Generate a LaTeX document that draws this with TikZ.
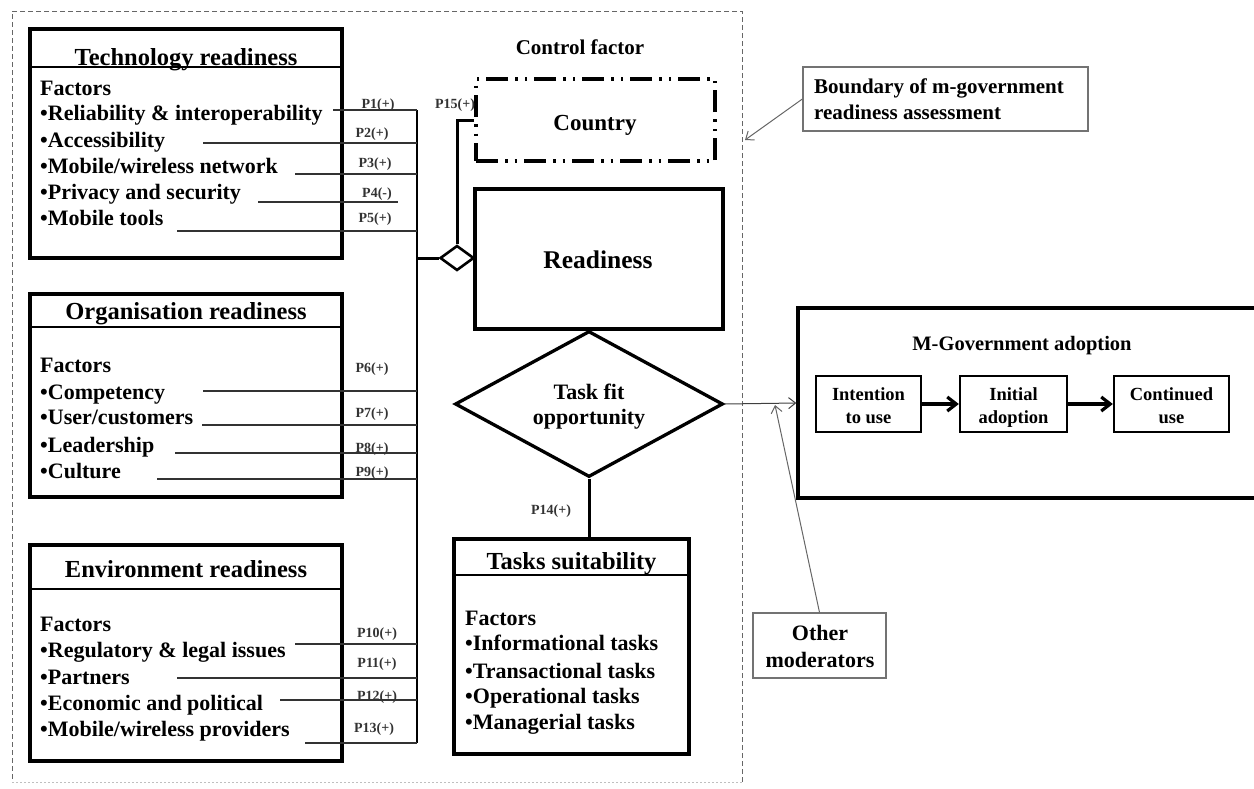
\documentclass[tikz,border=0pt]{standalone}
\usepackage{fontspec}
\setmainfont{Liberation Serif}
\usetikzlibrary{arrows.meta,shapes.geometric}

\begin{document}
\begin{tikzpicture}[x=1pt,y=-1pt,
  frame/.style={draw, rectangle, line width=3.3pt, inner sep=0pt},
  sepline/.style={line width=2.2pt},
  item/.style={font=\fontsize{22}{26}\selectfont\bfseries, anchor=base west, inner sep=0pt},
  ttl/.style={font=\fontsize{24.5}{28}\selectfont\bfseries, anchor=base, inner sep=0pt},
  plab/.style={font=\fontsize{14}{16}\selectfont\bfseries, anchor=base, inner sep=0pt, text=black!80},
  pline/.style={line width=1.2pt, black!80},
  bus/.style={line width=2.4pt},
  link/.style={line width=3pt},
  note/.style={draw=black!55, rectangle, line width=1.3pt, inner sep=0pt},
  garrow/.style={line width=1pt, black!60, -{Straight Barb[length=7pt,width=11pt]}},
  flow/.style={line width=3.2pt, -{Straight Barb[length=9pt,width=14pt]}},
  stage/.style={draw, rectangle, line width=2.3pt, inner sep=0pt, minimum height=56pt},
  stagetxt/.style={font=\fontsize{18.5}{22}\selectfont\bfseries, anchor=base, inner sep=0pt}
]
\useasboundingbox (0,0) rectangle (1254,788);

% assessment boundary
\draw[black!60, line width=0.8pt, dash pattern=on 5pt off 3pt]
  (742,782) -- (742,11) -- (12,11) -- (12,782);
\draw[black!25, line width=0.8pt, dash pattern=on 2pt off 2pt] (12,782) -- (742,782);

% ---------------- Technology readiness
\node[frame, minimum width=312pt, minimum height=229pt] (tech) at (186,143.5) {};
\draw[sepline] ([yshift=-40pt]tech.north west) -- ([yshift=-40pt]tech.north east);
\node[ttl] (techttl) at (186,65) {Technology readiness};
\node[item] (tech0) at (40,95) {Factors};
\node[item] (tech1) at (40,120) {•Reliability \& interoperability};
\node[item] (tech2) at (40,147) {•Accessibility};
\node[item] (tech3) at (40,173) {•Mobile/wireless network};
\node[item] (tech4) at (40,199) {•Privacy and security};
\node[item] (tech5) at (40,225) {•Mobile tools};

% ---------------- Organisation readiness
\node[frame, minimum width=312pt, minimum height=203pt] (org) at (186,395.5) {};
\draw[sepline] ([yshift=-35pt]org.north west) -- ([yshift=-35pt]org.north east);
\node[ttl] (orgttl) at (186,319) {Organisation readiness};
\node[item] (org0) at (40,372) {Factors};
\node[item] (org1) at (40,399) {•Competency};
\node[item] (org2) at (40,424) {•User/customers};
\node[item] (org3) at (40,452) {•Leadership};
\node[item] (org4) at (40,478) {•Culture};

% ---------------- Environment readiness
\node[frame, minimum width=312pt, minimum height=216pt] (env) at (186,653) {};
\draw[sepline] ([yshift=-46pt]env.north west) -- ([yshift=-46pt]env.north east);
\node[ttl] (envttl) at (186,577) {Environment readiness};
\node[item] (env0) at (40,631) {Factors};
\node[item] (env1) at (40,657) {•Regulatory \& legal issues};
\node[item] (env2) at (40,684) {•Partners};
\node[item] (env3) at (40,710) {•Economic and political};
\node[item] (env4) at (40,736) {•Mobile/wireless providers};

% ---------------- factor links and common bus
\coordinate (bustop) at (417,110);
\coordinate (busbot) at (417,743);
\coordinate (busj) at (417,258);
\draw[bus] (bustop) -- (busbot);
\foreach \n/\sx/\y in {1/333/110, 2/203/143, 3/295/174, 5/177/231,
                      6/203/391, 7/202/425, 8/175/453, 9/157/479,
                      10/295/644, 11/177/678, 12/280/700, 13/305/743}{
  \coordinate (fs\n) at (\sx,\y);
  \coordinate (fb\n) at (417,\y);
  \draw[pline] (fs\n) -- (fb\n);
}
\coordinate (fs4) at (258,202);
\coordinate (fe4) at (398,202);
\draw[pline] (fs4) -- (fe4);

\node[plab] (p1) at (378,108) {P1(+)};
\node[plab] (p2) at (372,137) {P2(+)};
\node[plab] (p3) at (375,167) {P3(+)};
\node[plab] (p4) at (377,197) {P4(-)};
\node[plab] (p5) at (375,222) {P5(+)};
\node[plab] (p6) at (372,372) {P6(+)};
\node[plab] (p7) at (372,417) {P7(+)};
\node[plab] (p8) at (372,452) {P8(+)};
\node[plab] (p9) at (372,476) {P9(+)};
\node[plab] (p10) at (377,637) {P10(+)};
\node[plab] (p11) at (377,667) {P11(+)};
\node[plab] (p12) at (377,700) {P12(+)};
\node[plab] (p13) at (374,732) {P13(+)};

% ---------------- control factor and readiness
\node[font=\fontsize{21}{24}\selectfont\bfseries, anchor=base, inner sep=0pt] (ctrl) at (580,54) {Control factor};
\node[draw, rectangle, line width=3.3pt, inner sep=0pt, minimum width=239pt, minimum height=82pt,
      dash pattern=on 22pt off 7pt on 2.5pt off 7pt on 2.5pt off 7pt] (country) at (595.5,120) {};
\node[font=\fontsize{23}{26}\selectfont\bfseries, anchor=base, inner sep=0pt] (countrytxt) at (595,130) {Country};

\node[frame, minimum width=248pt, minimum height=140pt] (ready) at (599,259) {};
\node[font=\fontsize{25.5}{28}\selectfont\bfseries, anchor=base, inner sep=0pt] (readytxt) at (598,268) {Readiness};

\node[draw, diamond, line width=2.6pt, inner sep=0pt, minimum width=34pt, minimum height=25pt] (junc) at (457,258) {};
\draw[link] (busj) -- (junc.west);
\draw[link] (junc.north) |- (country.west);
\node[plab] (p15) at (455,108) {P15(+)};

% ---------------- task fit
\node[draw, diamond, line width=3.3pt, inner sep=0pt, minimum width=268pt, minimum height=146pt] (fit) at (589,404) {};
\node[font=\fontsize{22}{26}\selectfont\bfseries, anchor=base, inner sep=0pt] (fit1) at (589,399) {Task fit};
\node[font=\fontsize{22}{26}\selectfont\bfseries, anchor=base, inner sep=0pt] (fit2) at (589,424) {opportunity};

% ---------------- tasks suitability
\node[frame, minimum width=235pt, minimum height=215pt] (tasks) at (571.5,646.5) {};
\draw[sepline] ([yshift=-38pt]tasks.north west) -- ([yshift=-38pt]tasks.north east);
\node[ttl] (tasksttl) at (571.5,569) {Tasks suitability};
\node[item] (task0) at (465,625) {Factors};
\node[item] (task1) at (465,650) {•Informational tasks};
\node[item] (task2) at (465,678) {•Transactional tasks};
\node[item] (task3) at (465,703) {•Operational tasks};
\node[item] (task4) at (465,729) {•Managerial tasks};
\draw[link] (fit.south) -- (fit.south |- tasks.north);
\node[plab] (p14) at (551,514) {P14(+)};

% ---------------- m-government adoption
\node[frame, minimum width=462pt, minimum height=190pt] (mgov) at (1029,403) {};
\node[font=\fontsize{20.5}{24}\selectfont\bfseries, anchor=base, inner sep=0pt] (mgovttl) at (1022,350) {M-Government adoption};
\node[stage, minimum width=105pt] (intent) at (868.5,404) {};
\node[stage, minimum width=107pt] (initial) at (1013.5,404) {};
\node[stage, minimum width=115pt] (cont) at (1171.5,404) {};
\node[stagetxt] (intent1) at (868.5,400) {Intention};
\node[stagetxt] (intent2) at (868.5,423) {to use};
\node[stagetxt] (initial1) at (1013.5,400) {Initial};
\node[stagetxt] (initial2) at (1013.5,423) {adoption};
\node[stagetxt] (cont1) at (1171.5,400) {Continued};
\node[stagetxt] (cont2) at (1171.5,423) {use};
\draw[flow] (intent) -- (initial);
\draw[flow] (initial) -- (cont);

\draw[line width=1pt, -{Straight Barb[length=7pt,width=11pt]}, black!75] (fit.east) -- (mgov.west);

% ---------------- notes
\node[note, minimum width=285pt, minimum height=64pt] (bnote) at (945.5,99) {};
\node[font=\fontsize{21}{26}\selectfont\bfseries, anchor=base west, inner sep=0pt] (bnote1) at (814,93) {Boundary of m-government};
\node[font=\fontsize{21}{26}\selectfont\bfseries, anchor=base west, inner sep=0pt] (bnote2) at (814,119) {readiness assessment};
\coordinate (bpoint) at (745,140);
\draw[garrow] (bnote.west) -- (bpoint);

\node[note, minimum width=133pt, minimum height=65pt] (other) at (819.5,645.5) {};
\node[font=\fontsize{22}{26}\selectfont\bfseries, anchor=base, inner sep=0pt] (other1) at (820,640) {Other};
\node[font=\fontsize{22}{26}\selectfont\bfseries, anchor=base, inner sep=0pt] (other2) at (820,667) {moderators};
\coordinate (mpoint) at (775,405);
\draw[garrow] (other.north) -- (mpoint);

\end{tikzpicture}
\end{document}
